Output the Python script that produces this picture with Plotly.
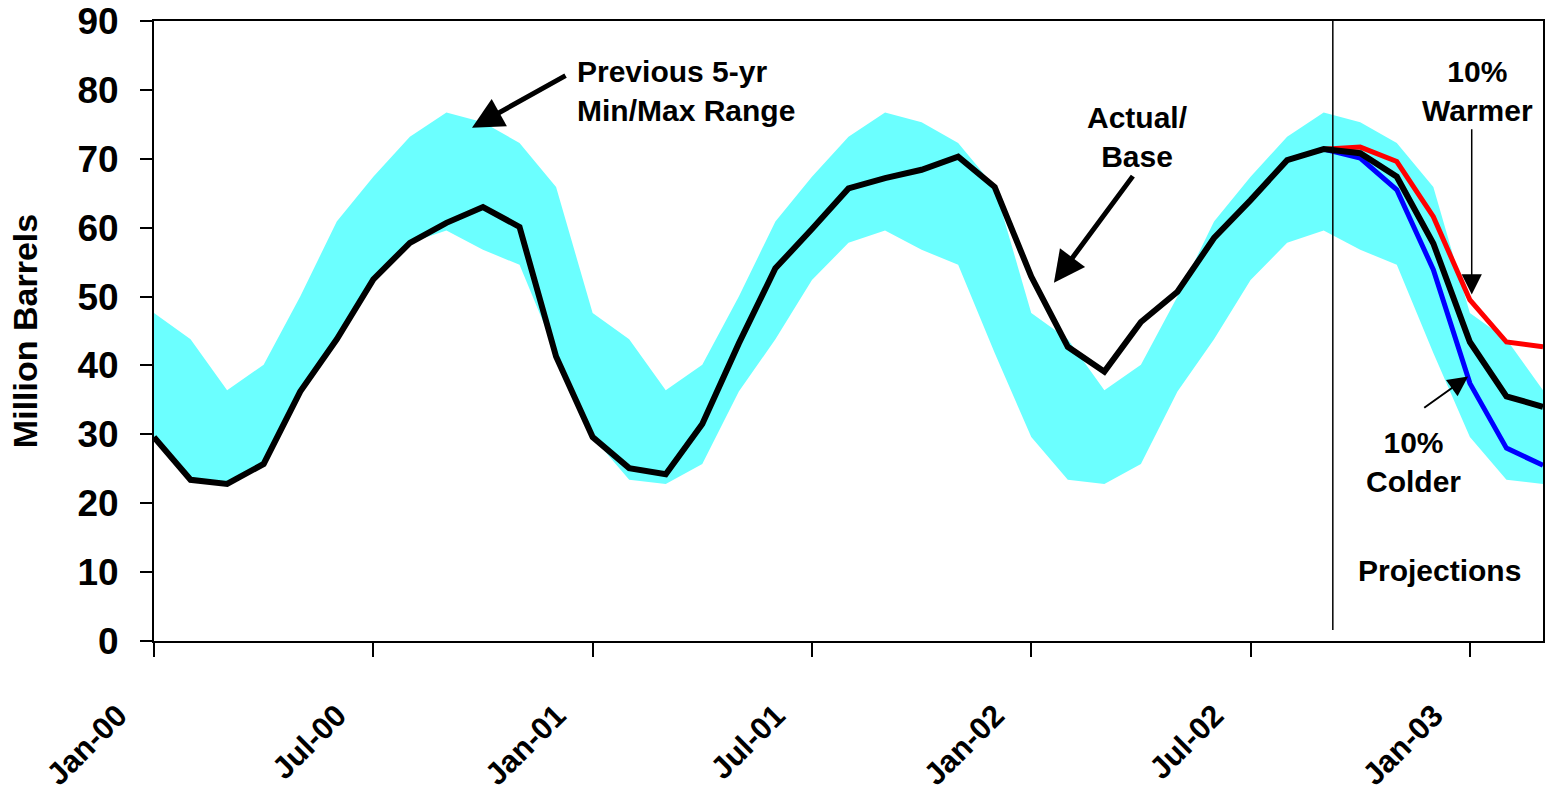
import plotly.graph_objects as go

# Monthly series, Jan-00 .. Mar-03 (million barrels)
months = [
    "Jan-00", "Feb-00", "Mar-00", "Apr-00", "May-00", "Jun-00",
    "Jul-00", "Aug-00", "Sep-00", "Oct-00", "Nov-00", "Dec-00",
    "Jan-01", "Feb-01", "Mar-01", "Apr-01", "May-01", "Jun-01",
    "Jul-01", "Aug-01", "Sep-01", "Oct-01", "Nov-01", "Dec-01",
    "Jan-02", "Feb-02", "Mar-02", "Apr-02", "May-02", "Jun-02",
    "Jul-02", "Aug-02", "Sep-02", "Oct-02", "Nov-02", "Dec-02",
    "Jan-03", "Feb-03", "Mar-03",
]

# Previous 5-yr minimum / maximum for each month
range_min = [
    29.6, 23.4, 22.8, 25.7, 36.2, 43.8, 52.4, 57.8, 59.6, 56.8, 54.6, 41.8,
    29.6, 23.4, 22.8, 25.7, 36.2, 43.8, 52.4, 57.8, 59.6, 56.8, 54.6, 41.8,
    29.6, 23.4, 22.8, 25.7, 36.2, 43.8, 52.4, 57.8, 59.6, 56.8, 54.6, 41.8,
    29.6, 23.4, 22.8,
]
range_max = [
    47.6, 43.8, 36.4, 40.1, 50.0, 60.9, 67.4, 73.2, 76.7, 75.3, 72.3, 65.9,
    47.6, 43.8, 36.4, 40.1, 50.0, 60.9, 67.4, 73.2, 76.7, 75.3, 72.3, 65.9,
    47.6, 43.8, 36.4, 40.1, 50.0, 60.9, 67.4, 73.2, 76.7, 75.3, 72.3, 65.9,
    47.6, 43.8, 36.4,
]

# Actual stocks, continued by the base-case projection
actual_base = [
    29.6, 23.4, 22.8, 25.7, 36.2, 43.8, 52.5, 57.8, 60.7, 63.0, 60.1, 41.3,
    29.6, 25.1, 24.2, 31.5, 43.2, 54.1, 59.8, 65.7, 67.2, 68.4, 70.3, 65.9,
    52.9, 42.7, 39.1, 46.3, 50.7, 58.5, 64.0, 69.8, 71.4, 70.8, 67.4, 57.7,
    43.4, 35.5, 34.0,
]

# Weather scenarios, Sep-02 .. Mar-03
scenario_months = ["Sep-02", "Oct-02", "Nov-02", "Dec-02", "Jan-03", "Feb-03", "Mar-03"]
warmer = [71.4, 71.7, 69.6, 61.6, 49.5, 43.4, 42.7]
colder = [71.4, 70.1, 65.5, 53.9, 37.4, 28.0, 25.5]

tick_months = ["Jan-00", "Jul-00", "Jan-01", "Jul-01", "Jan-02", "Jul-02", "Jan-03"]
y_ticks = [0, 10, 20, 30, 40, 50, 60, 70, 80, 90]

FONT = "Liberation Sans, Arial, Helvetica, sans-serif"
BAND = "#6BFFFF"

fig = go.Figure()

fig.add_trace(go.Scatter(
    x=months, y=range_min, mode="lines",
    line=dict(width=0, color=BAND), hoverinfo="skip", showlegend=False,
))
fig.add_trace(go.Scatter(
    x=months, y=range_max, mode="lines", fill="tonexty", fillcolor=BAND,
    line=dict(width=0, color=BAND), hoverinfo="skip", showlegend=False,
))
fig.add_trace(go.Scatter(
    x=scenario_months, y=warmer, mode="lines",
    line=dict(color="#FF0000", width=5), showlegend=False,
))
fig.add_trace(go.Scatter(
    x=scenario_months, y=colder, mode="lines",
    line=dict(color="#0000FF", width=5), showlegend=False,
))
fig.add_trace(go.Scatter(
    x=months, y=actual_base, mode="lines",
    line=dict(color="#000000", width=6), showlegend=False,
))

# Divider between history and projections
fig.add_shape(type="line", xref="x", yref="y", x0=32.25, x1=32.25, y0=1.6, y1=90,
              line=dict(color="#000000", width=1.5))

text_font = dict(family=FONT, size=30, color="#000000", weight="bold")


def label(text, x, y, xanchor="center", align="center"):
    fig.add_annotation(x=x, y=y, xref="x", yref="y", text=text, showarrow=False,
                       xanchor=xanchor, yanchor="middle", align=align, font=text_font)


def arrow(x_tip, y_tip, x_tail, y_tail, width, size):
    fig.add_annotation(x=x_tip, y=y_tip, ax=x_tail, ay=y_tail,
                       xref="x", yref="y", axref="x", ayref="y",
                       text="", showarrow=True, arrowhead=2,
                       arrowwidth=width, arrowsize=size, arrowcolor="#000000")


label("Previous 5-yr<br>Min/Max Range", 11.52, 79.9, xanchor="left", align="left")
label("Actual/<br>Base", 26.9, 73.2)
label("10%<br>Warmer", 36.22, 79.9)
label("10%<br>Colder", 34.45, 26.05)
label("Projections", 35.18, 10.3)

arrow(8.70, 74.5, 11.30, 82.2, 5, 1.25)
arrow(24.62, 52.0, 26.81, 67.7, 5, 1.25)
arrow(36.05, 50.3, 36.05, 74.5, 1.5, 2.7)
arrow(35.95, 38.4, 34.71, 33.7, 2, 2.0)

fig.update_layout(
    width=1554, height=799,
    margin=dict(l=154, r=11, t=21, b=158, autoexpand=False),
    paper_bgcolor="#FFFFFF", plot_bgcolor="#FFFFFF",
    showlegend=False,
    xaxis=dict(
        type="category", range=[0, 38], automargin=False,
        showline=True, linecolor="#000000", linewidth=2, mirror=True,
        showgrid=False, zeroline=False,
        ticks="outside", ticklen=14, tickwidth=2, tickcolor="#000000",
        tickmode="array", tickvals=tick_months, ticktext=tick_months,
        tickangle=-45, ticklabelstandoff=28, ticklabelshift=-36,
        tickfont=dict(family=FONT, size=31, color="#000000", weight="bold"),
    ),
    yaxis=dict(
        range=[0, 90], automargin=False,
        showline=True, linecolor="#000000", linewidth=2, mirror=True,
        showgrid=False, zeroline=False,
        ticks="outside", ticklen=12, tickwidth=2, tickcolor="#000000",
        tickmode="array", tickvals=y_ticks,
        ticklabelstandoff=14,
        tickfont=dict(family=FONT, size=37, color="#000000", weight="bold"),
        title=dict(text="Million Barrels", standoff=30,
                   font=dict(family=FONT, size=34, color="#000000", weight="bold")),
    ),
)

fig.write_html("out.html")
